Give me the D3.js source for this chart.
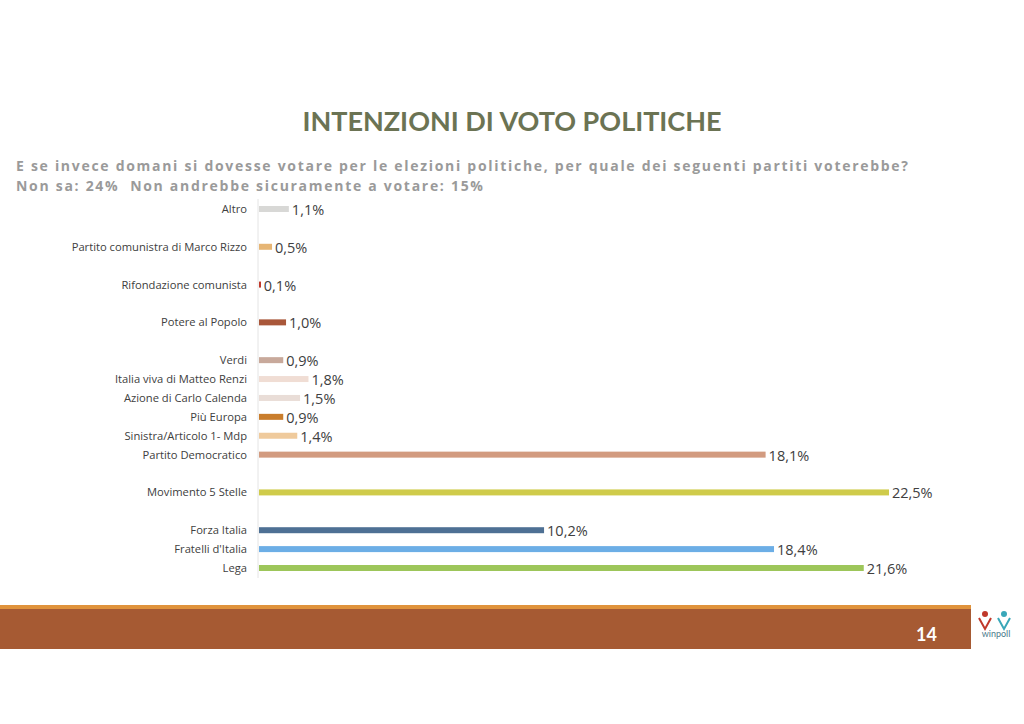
<!DOCTYPE html>
<html><head><meta charset="utf-8">
<script src="https://cdn.jsdelivr.net/npm/d3@7"></script>
<style>body{margin:0;background:#fff}svg{display:block}text{white-space:pre}</style>
</head><body>
<svg id="c" width="1024" height="724"></svg>
<script>
// Slots, top to bottom; "_g" entries mark empty rows in the original layout
const slots = ["Altro","_g1","Partito comunistra di Marco Rizzo","_g2","Rifondazione comunista","_g3","Potere al Popolo","_g4","Verdi","Italia viva di Matteo Renzi","Azione di Carlo Calenda","Più Europa","Sinistra/Articolo 1- Mdp","Partito Democratico","_g5","Movimento 5 Stelle","_g6","Forza Italia","Fratelli d'Italia","Lega"];
const categories = ["Altro","Partito comunistra di Marco Rizzo","Rifondazione comunista","Potere al Popolo","Verdi","Italia viva di Matteo Renzi","Azione di Carlo Calenda","Più Europa","Sinistra/Articolo 1- Mdp","Partito Democratico","Movimento 5 Stelle","Forza Italia","Fratelli d'Italia","Lega"];
const values = [1.1,0.5,0.1,1.0,0.9,1.8,1.5,0.9,1.4,18.1,22.5,10.2,18.4,21.6];
const valueLabels = ["1,1%","0,5%","0,1%","1,0%","0,9%","1,8%","1,5%","0,9%","1,4%","18,1%","22,5%","10,2%","18,4%","21,6%"];
const colors = ["#d8d8d6","#e6b574","#c0392b","#a9573a","#c8a99b","#f0ddd4","#e9ddd7","#c97d2c","#efca9c","#d29b80","#cfcb4a","#4e7094","#6caee6","#9dc65a"];

const svg = d3.select("#c");
const x = d3.scaleLinear().domain([0,22.5]).range([258,889]);
const y = d3.scalePoint().domain(slots).range([209,568]);

// title
svg.append("text").attr("x",512).attr("y",131).attr("text-anchor","middle")
  .attr("font-family","Lato, 'Open Sans', sans-serif").attr("font-weight","bold")
  .attr("font-size",27).attr("fill","#6b7353").text("INTENZIONI DI VOTO POLITICHE");
svg.append("text").attr("x",16).attr("y",171).attr("textLength",892).attr("lengthAdjust","spacing")
  .attr("font-family","'Open Sans', sans-serif").attr("font-weight","bold")
  .attr("font-size",14).attr("fill","#9a9a9a")
  .text("E se invece domani si dovesse votare per le elezioni politiche, per quale dei seguenti partiti voterebbe?");
svg.append("text").attr("x",16).attr("y",191).attr("textLength",467).attr("lengthAdjust","spacing")
  .attr("font-family","'Open Sans', sans-serif").attr("font-weight","bold")
  .attr("font-size",14).attr("fill","#9a9a9a")
  .text("Non sa: 24%  Non andrebbe sicuramente a votare: 15%");

// axis
svg.append("line").attr("x1",x(0)).attr("x2",x(0)).attr("y1",199).attr("y2",578)
  .attr("stroke","#e4e4e4").attr("stroke-width",1);

const g = svg.append("g");
categories.forEach((c,i)=>{
  const yy = y(c);
  g.append("rect").attr("x",x(0)+1).attr("y",yy-3).attr("width",Math.max(2,x(values[i])-x(0)-1)).attr("height",6)
    .attr("fill",colors[i]);
  g.append("text").attr("x",247).attr("y",yy+4).attr("text-anchor","end")
    .attr("font-family","'Open Sans', sans-serif").attr("font-size",11.2).attr("fill","#404040").text(c);
  g.append("text").attr("x",Math.max(x(values[i]),x(0)+2)+3).attr("y",yy+6)
    .attr("font-family","'Open Sans', sans-serif").attr("font-size",14.5).attr("fill","#404040").text(valueLabels[i]);
});

// footer
svg.append("rect").attr("x",0).attr("y",605).attr("width",971).attr("height",4).attr("fill","#e0933c");
svg.append("rect").attr("x",0).attr("y",609).attr("width",971).attr("height",40).attr("fill","#a65a33");
svg.append("text").attr("x",937).attr("y",641).attr("text-anchor","end")
  .attr("font-family","Lato, sans-serif").attr("font-weight","bold").attr("font-size",18).attr("fill","#fff").text("14");
// logo
const lg = svg.append("g");
lg.append("circle").attr("cx",985).attr("cy",614).attr("r",3).attr("fill","#c0392b");
lg.append("circle").attr("cx",1004).attr("cy",614).attr("r",3).attr("fill","#3aa7b9");
lg.append("path").attr("d","M979,618 L985,629 L991,618").attr("fill","none").attr("stroke","#c0392b").attr("stroke-width",2);
lg.append("path").attr("d","M998,618 L1004,629 L1010,618").attr("fill","none").attr("stroke","#3aa7b9").attr("stroke-width",2);
lg.append("text").attr("x",996).attr("y",637).attr("text-anchor","middle").attr("font-family","Lato, sans-serif")
  .attr("font-size",9).attr("fill","#4a7a8c").text("winpoll");
</script>
</body></html>
